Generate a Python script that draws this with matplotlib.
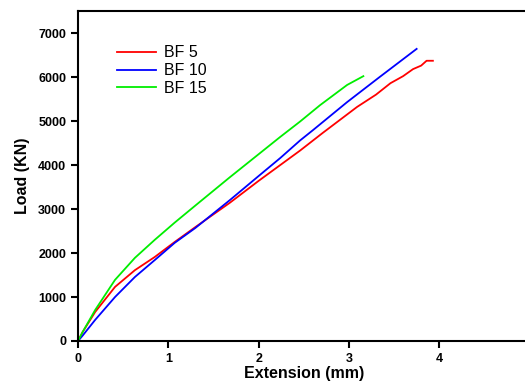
import matplotlib
matplotlib.use("Agg")
from matplotlib import pyplot as plt

plt.rcParams['font.family'] = ['Liberation Sans', 'DejaVu Sans']

# extension (mm) and load (KN)
bf5_x = [0, 0.05, 0.19, 0.41, 0.63, 0.85, 1.07, 1.30, 1.68, 2.0, 2.24, 2.46,
         2.71, 3.09, 3.3, 3.46, 3.6, 3.71, 3.8, 3.86, 3.93]
bf5_y = [0, 200, 660, 1230, 1610, 1910, 2250, 2590, 3140, 3640, 4000, 4330,
         4730, 5320, 5600, 5860, 6020, 6180, 6260, 6370, 6370]

bf10_x = [0, 0.05, 0.19, 0.41, 0.63, 0.85, 1.07, 1.30, 1.68, 2.0, 2.24, 2.46,
          2.60, 2.98, 3.34, 3.75]
bf10_y = [0, 120, 480, 1000, 1455, 1840, 2230, 2570, 3200, 3750, 4160, 4560,
          4790, 5430, 6000, 6640]

bf15_x = [0, 0.05, 0.19, 0.41, 0.63, 0.85, 1.07, 1.30, 1.68, 2.24, 2.46, 2.68,
          2.98, 3.16]
bf15_y = [0, 200, 705, 1390, 1890, 2300, 2690, 3080, 3720, 4640, 4990, 5360,
          5820, 6020]

labels = ["BF 5", "BF 10", "BF 15"]
xticks = [0, 1, 2, 3, 4]
yticks = [0, 1000, 2000, 3000, 4000, 5000, 6000, 7000]

fig = plt.figure(figsize=(5.25, 3.81), dpi=100)
ax = fig.add_axes([0.1486, 0.105, 0.86, 0.866])

ax.plot(bf5_x, bf5_y, c='#ff0000', lw=1.3, label=labels[0])
ax.plot(bf10_x, bf10_y, c='#0000ff', lw=1.3, label=labels[1])
ax.plot(bf15_x, bf15_y, c='#00ee00', lw=1.3, label=labels[2])

ax.set_xlim(0, 5)
ax.set_ylim(0, 7500)
ax.set_xticks(xticks)
ax.set_yticks(yticks)
ax.tick_params(axis='both', direction='out', width=1.5, length=5, labelsize=9)
for lab in ax.get_xticklabels() + ax.get_yticklabels():
    lab.set_fontweight('bold')
for s in ax.spines.values():
    s.set_linewidth(1.5)

ax.set_xlabel("Extension (mm)", fontsize=11.5, fontweight='bold', labelpad=1)
ax.set_ylabel("Load (KN)", fontsize=11.5, fontweight='bold', labelpad=6)

ax.legend(loc='upper left', bbox_to_anchor=(0.055, 0.94), frameon=False,
          fontsize=11.5, handlelength=2.4, labelspacing=0.18, handletextpad=0.55)

plt.savefig("out.png", dpi=100)
